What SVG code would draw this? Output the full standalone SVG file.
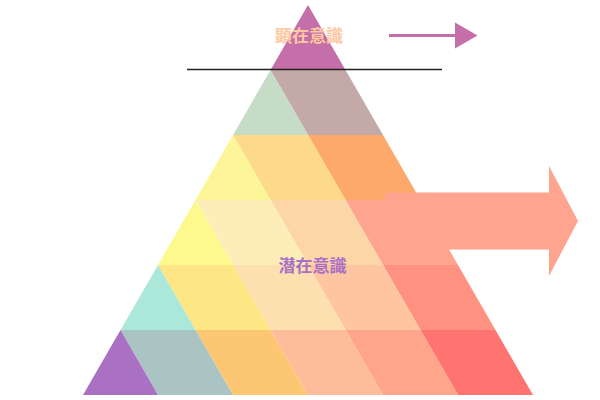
<svg xmlns="http://www.w3.org/2000/svg" width="600" height="400" viewBox="0 0 600 400">
<defs>
<style>
.lbl{font-family:"Noto Sans CJK JP","Noto Sans CJK SC",sans-serif;font-weight:bold;font-size:17px;text-anchor:middle;dominant-baseline:central}
</style>
</defs>
<rect width="600" height="400" fill="#ffffff"/>
<g id="pyramid">
<polygon fill="#c46faa" points="308,5 345.5,70 270.5,70"/>
<polygon fill="#c4a9a9" points="345.5,70 383,135 308,135 270.5,70"/>
<polygon fill="#c5dcc6" points="270.5,70 308,135 233,135"/>
<polygon fill="#fea96c" points="383,135 420.5,200 345.5,200 308,135"/>
<polygon fill="#fdd98a" points="308,135 345.5,200 270.5,200 233,135"/>
<polygon fill="#fdf597" points="233,135 270.5,200 195.5,200"/>
<polygon fill="#ffa48e" points="420.5,200 458,265 383,265 345.5,200"/>
<polygon fill="#fdd6a8" points="345.5,200 383,265 308,265 270.5,200"/>
<polygon fill="#fdeeb9" points="270.5,200 308,265 233,265 195.5,200"/>
<polygon fill="#fdf98c" points="195.5,200 233,265 158,265"/>
<polygon fill="#ff9180" points="458,265 495.5,330 420.5,330 383,265"/>
<polygon fill="#fdc5a0" points="383,265 420.5,330 345.5,330 308,265"/>
<polygon fill="#fde0b0" points="308,265 345.5,330 270.5,330 233,265"/>
<polygon fill="#fde683" points="233,265 270.5,330 195.5,330 158,265"/>
<polygon fill="#abe8da" points="158,265 195.5,330 120.5,330"/>
<polygon fill="#ff7370" points="495.5,330 533,395 458,395 420.5,330"/>
<polygon fill="#fea58c" points="420.5,330 458,395 383,395 345.5,330"/>
<polygon fill="#fdbd9b" points="345.5,330 383,395 308,395 270.5,330"/>
<polygon fill="#fdc673" points="270.5,330 308,395 233,395 195.5,330"/>
<polygon fill="#aac4c4" points="195.5,330 233,395 158,395 120.5,330"/>
<polygon fill="#aa70c4" points="120.5,330 158,395 83,395"/>
</g>
<g id="divider">
<line x1="187" y1="69.5" x2="442" y2="69.5" stroke="#222222" stroke-width="1.5"/>
</g>
<g id="connectors">
<line x1="389" y1="35.5" x2="456" y2="35.5" stroke="#c46faa" stroke-width="3"/>
<polygon fill="#c46faa" points="455,22.5 477.5,35.5 455,48.5"/>
<polygon fill="#ffa48e" points="385,192.5 549,192.5 549,166 578,221 549,276 549,249.5 385,249.5"/>
</g>
<g id="conscious">
<text class="lbl" x="309" y="34.5" fill="#fec8a0">顕在意識</text>
</g>
<g id="subconscious">
<text class="lbl" x="312.5" y="264.5" fill="#aa70c4">潜在意識</text>
</g>
</svg>
